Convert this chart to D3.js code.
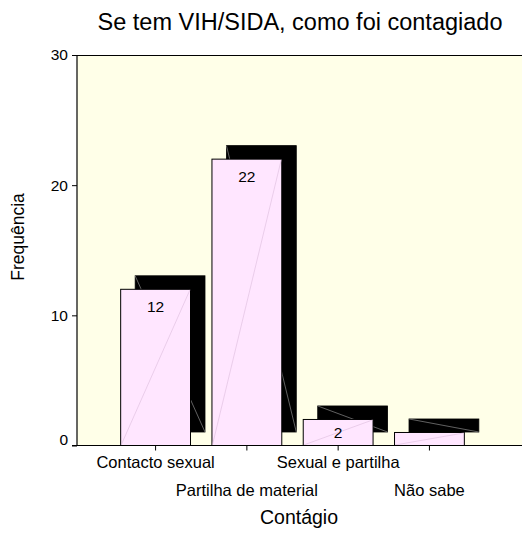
<!DOCTYPE html>
<html>
<head>
<meta charset="utf-8">
<script src="https://cdn.jsdelivr.net/npm/d3@7"></script>
<style>
  html, body { margin: 0; padding: 0; background: #ffffff; }
  svg { display: block; font-family: Arial, "Liberation Sans", sans-serif; }
</style>
</head>
<body>
<svg id="chart" width="522" height="554"></svg>
<script>
const categories = ["Contacto sexual", "Partilha de material", "Sexual e partilha", "Não sabe"];
const values = [12, 22, 2, 1];
const yTicks = [0, 10, 20, 30];
const title = "Se tem VIH/SIDA, como foi contagiado";
const xTitle = "Contágio";
const yTitle = "Frequência";

const svg = d3.select("#chart");
const plot = { left: 77, right: 522, top: 55, bottom: 445.5 };
const depth = { dx: 14.5, dy: -13.5 };

const x = d3.scaleBand()
  .domain(categories)
  .range([plot.left, plot.right])
  .paddingInner(0.235)
  .paddingOuter(0.555)
  .align(0.431);
const y = d3.scaleLinear().domain([0, 30]).range([plot.bottom, plot.top]);

// background
svg.append("rect")
  .attr("x", plot.left).attr("y", plot.top)
  .attr("width", plot.right - plot.left).attr("height", plot.bottom - plot.top)
  .attr("fill", "#ffffe8");

// top frame line
svg.append("line")
  .attr("x1", plot.left).attr("x2", plot.right)
  .attr("y1", plot.top + 0.5).attr("y2", plot.top + 0.5)
  .attr("stroke", "#000").attr("stroke-width", 1.2);

const bars = svg.append("g");
const data = categories.map((c, i) => ({ c, v: values[i] }));

// shadows (depth)
data.forEach(d => {
  const x0 = x(d.c) + depth.dx, x1 = x0 + x.bandwidth();
  const y0 = y(d.v) + depth.dy, y1 = y(0) + depth.dy;
  bars.append("rect")
    .attr("x", x0).attr("y", y0).attr("width", x1 - x0).attr("height", y1 - y0)
    .attr("fill", "#000").attr("stroke", "#000").attr("stroke-width", 0.8);
  bars.append("line")
    .attr("x1", x0).attr("y1", y0).attr("x2", x1).attr("y2", y1)
    .attr("stroke", "#7a7a7a").attr("stroke-width", 0.8);
});

// front faces
data.forEach(d => {
  const x0 = x(d.c), x1 = x0 + x.bandwidth();
  const y0 = y(d.v), y1 = y(0);
  bars.append("rect")
    .attr("x", x0).attr("y", y0).attr("width", x1 - x0).attr("height", y1 - y0)
    .attr("fill", "#ffe6ff").attr("stroke", "#000").attr("stroke-width", 1);
  bars.append("line")
    .attr("x1", x0 + 0.5).attr("y1", y1 - 0.5).attr("x2", x1 - 0.5).attr("y2", y0 + 0.5)
    .attr("stroke", "#dcbcdc").attr("stroke-width", 0.6);
});

// value labels
data.forEach(d => {
  const h = y(0) - y(d.v);
  if (h < 20) return;
  const cy = Math.min(y(d.v) + 17, (y(d.v) + y(0)) / 2);
  svg.append("text")
    .attr("x", x(d.c) + x.bandwidth() / 2).attr("y", cy)
    .attr("dy", "0.36em")
    .attr("text-anchor", "middle")
    .attr("font-size", 15.5).attr("fill", "#000")
    .text(d.v);
});

// y axis
const yAxis = d3.axisLeft(y).tickValues(yTicks).tickSize(5).tickPadding(4);
const gy = svg.append("g").attr("transform", `translate(${plot.left},0)`).call(yAxis);
gy.select(".domain").attr("stroke", "#000").attr("stroke-width", 1.2).attr("d", `M0,${plot.top}V${plot.bottom}`);
gy.selectAll("text").attr("font-size", 15.5).attr("fill", "#000").attr("font-family", "Arial, 'Liberation Sans', sans-serif")
  .attr("y", d => d === 0 ? -6 : 0);
gy.selectAll(".tick line").attr("stroke", "#000");

// x axis
const xAxis = d3.axisBottom(x).tickSize(5).tickFormat("");
const gx = svg.append("g").attr("transform", `translate(0,${plot.bottom})`).call(xAxis);
gx.select(".domain").attr("stroke", "#000").attr("stroke-width", 1.2).attr("d", `M${plot.left - 5},0H${plot.right}`);
gx.selectAll(".tick line").attr("stroke", "#000");
gx.selectAll(".tick").append("text")
  .attr("y", (d, i) => i % 2 === 0 ? 22 : 50)
  .attr("text-anchor", "middle")
  .attr("font-size", 16.5).attr("fill", "#000")
  .attr("font-family", "Arial, 'Liberation Sans', sans-serif")
  .text(d => d);

// titles
svg.append("text")
  .attr("x", 300).attr("y", 30)
  .attr("text-anchor", "middle").attr("font-size", 23.5).attr("fill", "#000")
  .text(title);
svg.append("text")
  .attr("x", 299).attr("y", 524)
  .attr("text-anchor", "middle").attr("font-size", 19.5).attr("fill", "#000")
  .text(xTitle);
svg.append("text")
  .attr("transform", "translate(24,237) rotate(-90)")
  .attr("text-anchor", "middle").attr("font-size", 17.5).attr("fill", "#000")
  .text(yTitle);
</script>
</body>
</html>
